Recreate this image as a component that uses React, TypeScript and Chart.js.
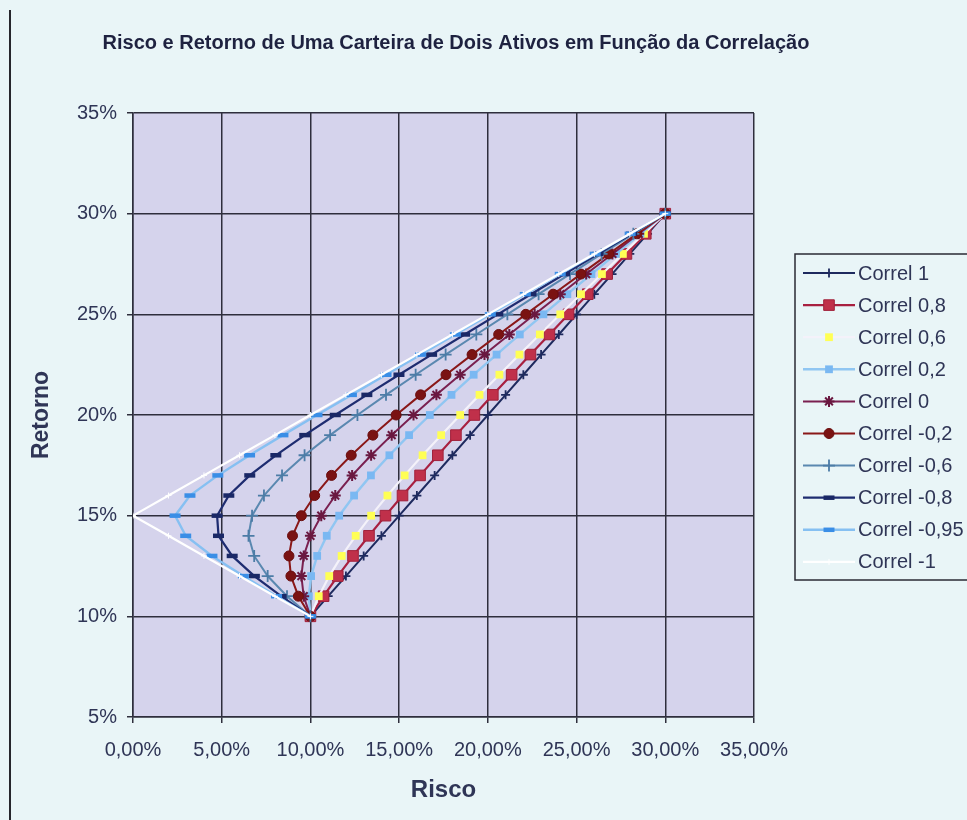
import React, { useEffect, useRef } from 'react';
import { Chart, registerables } from 'chart.js';

Chart.register(...registerables);

// Expected portfolio return (%) for weights 0%..100% in the second asset
const returns = [10, 11, 12, 13, 14, 15, 16, 17, 18, 19, 20, 21, 22, 23, 24, 25, 26, 27, 28, 29, 30];

// Portfolio risk (%) for each correlation between the two assets
const riskCorrel1 = [10, 11, 12, 13, 14, 15, 16, 17, 18, 19, 20, 21, 22, 23, 24, 25, 26, 27, 28, 29, 30];
const riskCorrel08 = [10.0, 10.74, 11.54, 12.4, 13.3, 14.23, 15.19, 16.18, 17.18, 18.2, 19.24, 20.28, 21.34, 22.4, 23.47, 24.55, 25.63, 26.72, 27.81, 28.9, 30.0];
const riskCorrel06 = [10.0, 10.47, 11.06, 11.76, 12.55, 13.42, 14.34, 15.31, 16.32, 17.37, 18.44, 19.53, 20.65, 21.78, 22.93, 24.08, 25.25, 26.43, 27.61, 28.8, 30.0];
const riskCorrel02 = [10.0, 9.91, 10.04, 10.38, 10.92, 11.62, 12.46, 13.41, 14.45, 15.56, 16.73, 17.95, 19.2, 20.49, 21.8, 23.13, 24.48, 25.84, 27.22, 28.6, 30.0];
const riskCorrel0 = [10.0, 9.62, 9.49, 9.62, 10.0, 10.61, 11.4, 12.35, 13.42, 14.58, 15.81, 17.1, 18.44, 19.81, 21.21, 22.64, 24.08, 25.54, 27.02, 28.5, 30.0];
const riskCorrelM02 = [10.0, 9.32, 8.9, 8.79, 8.99, 9.49, 10.24, 11.19, 12.3, 13.52, 14.83, 16.21, 17.64, 19.11, 20.61, 22.14, 23.68, 25.24, 26.82, 28.4, 30.0];
const riskCorrelM06 = [10.0, 8.68, 7.59, 6.83, 6.51, 6.71, 7.38, 8.4, 9.67, 11.11, 12.65, 14.26, 15.93, 17.62, 19.35, 21.1, 22.86, 24.63, 26.41, 28.2, 30.0];
const riskCorrelM08 = [10.0, 8.35, 6.84, 5.59, 4.82, 4.74, 5.4, 6.58, 8.05, 9.68, 11.4, 13.18, 14.99, 16.83, 18.69, 20.56, 22.43, 24.32, 26.21, 28.1, 30.0];
const riskCorrelM095 = [10.0, 8.09, 6.22, 4.45, 2.97, 2.37, 3.21, 4.78, 6.57, 8.45, 10.37, 12.31, 14.26, 16.21, 18.17, 20.14, 22.11, 24.08, 26.05, 28.02, 30.0];
const riskCorrelM1 = [10, 8, 6, 4, 2, 0, 2, 4, 6, 8, 10, 12, 14, 16, 18, 20, 22, 24, 26, 28, 30];

const seriesLabels = [
  'Correl 1', 'Correl 0,8', 'Correl 0,6', 'Correl 0,2', 'Correl 0',
  'Correl -0,2', 'Correl -0,6', 'Correl -0,8', 'Correl -0,95', 'Correl -1',
];
const seriesRisk = [
  riskCorrel1, riskCorrel08, riskCorrel06, riskCorrel02, riskCorrel0,
  riskCorrelM02, riskCorrelM06, riskCorrelM08, riskCorrelM095, riskCorrelM1,
];

const chartTitle = 'Risco e Retorno de Uma Carteira de Dois Ativos em Função da Correlação';
const xTitle = 'Risco';
const yTitle = 'Retorno';

type SeriesStyle = {
  line: string; lineWidth: number; point: string; radius: number;
  fill: string; stroke: string; pointWidth: number;
};

const seriesStyles: SeriesStyle[] = [
  { line: '#1E2A5E', lineWidth: 2, point: 'cross', radius: 4.5, fill: '#1E2A5E', stroke: '#1E2A5E', pointWidth: 1.8 },
  { line: '#A82040', lineWidth: 2.2, point: 'rect', radius: 7.5, fill: '#C0304A', stroke: '#A0203A', pointWidth: 1 },
  { line: '#F4F2FA', lineWidth: 2.2, point: 'rect', radius: 5.5, fill: '#FFFF55', stroke: '#FFFF55', pointWidth: 0 },
  { line: '#90C6F2', lineWidth: 2.4, point: 'rect', radius: 5.5, fill: '#7AB8F2', stroke: '#7AB8F2', pointWidth: 0 },
  { line: '#7A2050', lineWidth: 2, point: 'star', radius: 5.5, fill: '#6A1840', stroke: '#6A1840', pointWidth: 2 },
  { line: '#8A1818', lineWidth: 2, point: 'circle', radius: 5, fill: '#7A1212', stroke: '#6A0E0E', pointWidth: 1 },
  { line: '#5A88B0', lineWidth: 2, point: 'cross', radius: 6, fill: '#4C7CA6', stroke: '#4C7CA6', pointWidth: 1.8 },
  { line: '#1E2C70', lineWidth: 2.2, point: 'line', radius: 5.5, fill: '#1A2866', stroke: '#1A2866', pointWidth: 4.5 },
  { line: '#86C0F2', lineWidth: 2.4, point: 'line', radius: 5.5, fill: '#3A8EE6', stroke: '#3A8EE6', pointWidth: 4.5 },
  { line: '#FFFFFF', lineWidth: 2.2, point: 'cross', radius: 3, fill: '#FFFFFF', stroke: '#FFFFFF', pointWidth: 1 },
];

const FONT = "Arial, 'Liberation Sans', sans-serif";
const TEXT = '#2F3556';
const GRID = '#2E2E3C';

function drawMarker(ctx: CanvasRenderingContext2D, s: SeriesStyle, x: number, y: number) {
  const r = s.radius;
  ctx.save();
  ctx.fillStyle = s.fill;
  ctx.strokeStyle = s.stroke;
  ctx.lineWidth = s.pointWidth;
  ctx.beginPath();
  if (s.point === 'circle') {
    ctx.arc(x, y, r, 0, Math.PI * 2);
    ctx.fill();
    if (s.pointWidth) ctx.stroke();
  } else if (s.point === 'rect') {
    const h = r * Math.SQRT1_2;
    ctx.rect(x - h, y - h, 2 * h, 2 * h);
    ctx.fill();
    if (s.pointWidth) ctx.stroke();
  } else if (s.point === 'cross' || s.point === 'star') {
    ctx.moveTo(x, y - r); ctx.lineTo(x, y + r);
    ctx.moveTo(x - r, y); ctx.lineTo(x + r, y);
    if (s.point === 'star') {
      const d = r * Math.SQRT1_2;
      ctx.moveTo(x - d, y - d); ctx.lineTo(x + d, y + d);
      ctx.moveTo(x + d, y - d); ctx.lineTo(x - d, y + d);
    }
    ctx.stroke();
  } else if (s.point === 'line') {
    ctx.moveTo(x - r, y); ctx.lineTo(x + r, y);
    ctx.stroke();
  }
  ctx.restore();
}

const decorations = {
  id: 'decorations',
  beforeDraw(chart: any) {
    const { ctx, chartArea: a, width, height } = chart;
    ctx.save();
    ctx.fillStyle = '#E9F5F7';
    ctx.fillRect(0, 0, width, height);
    ctx.fillStyle = '#D5D3EC';
    ctx.fillRect(a.left, a.top, a.right - a.left, a.bottom - a.top);
    ctx.strokeStyle = '#26262C';
    ctx.lineWidth = 2;
    ctx.beginPath();
    ctx.moveTo(10, 10);
    ctx.lineTo(10, height);
    ctx.stroke();
    ctx.restore();
  },
  afterDraw(chart: any) {
    const { ctx } = chart;
    ctx.save();
    // chart title
    ctx.fillStyle = '#1E2240';
    ctx.font = `bold 20px ${FONT}`;
    ctx.textAlign = 'center';
    ctx.textBaseline = 'middle';
    ctx.fillText(chartTitle, 456, 43);

    // legend
    const boxLeft = 795, boxTop = 254, boxBottom = 580;
    ctx.strokeStyle = '#2A2A34';
    ctx.lineWidth = 1.5;
    ctx.strokeRect(boxLeft, boxTop, 220, boxBottom - boxTop);
    ctx.font = `20px ${FONT}`;
    ctx.textAlign = 'left';
    ctx.textBaseline = 'middle';
    seriesLabels.forEach((label, i) => {
      const s = seriesStyles[i];
      const y = 273 + i * 32.1;
      ctx.strokeStyle = s.line;
      ctx.lineWidth = s.lineWidth;
      ctx.beginPath();
      ctx.moveTo(803, y);
      ctx.lineTo(855, y);
      ctx.stroke();
      drawMarker(ctx, s, 829, y);
      ctx.fillStyle = TEXT;
      ctx.fillText(label, 858, y + 1);
    });
    ctx.restore();
  },
};

export default function App() {
  const canvasRef = useRef<HTMLCanvasElement | null>(null);

  useEffect(() => {
    const canvas = canvasRef.current;
    if (!canvas) return;
    const n = seriesLabels.length;
    const datasets = seriesLabels.map((label, i) => {
      const s = seriesStyles[i];
      return {
        label,
        data: seriesRisk[i].map((x, k) => ({ x, y: returns[k] })),
        showLine: true,
        borderColor: s.line,
        borderWidth: s.lineWidth,
        backgroundColor: s.fill,
        pointStyle: s.point,
        pointRadius: s.radius,
        pointBackgroundColor: s.fill,
        pointBorderColor: s.stroke,
        pointBorderWidth: s.pointWidth,
        tension: 0,
        order: n - i,
      };
    });

    const chart = new Chart(canvas, {
      type: 'scatter',
      data: { datasets },
      options: {
        responsive: false,
        animation: false,
        devicePixelRatio: 1,
        layout: { padding: { top: 113, right: 213, bottom: 0, left: 0 } },
        plugins: {
          legend: { display: false },
          title: { display: false },
          tooltip: { enabled: false },
        },
        scales: {
          x: {
            type: 'linear',
            min: 0,
            max: 35,
            afterFit: (scale: any) => { scale.height = 103; },
            ticks: {
              stepSize: 5,
              padding: 15,
              color: TEXT,
              font: { family: FONT, size: 20 },
              callback: (v: any) => Number(v).toFixed(2).replace('.', ',') + '%',
            },
            grid: { color: GRID, lineWidth: 1.5, tickLength: 6, tickColor: GRID },
            border: { color: GRID, width: 1.5 },
            title: {
              display: true,
              text: xTitle,
              color: TEXT,
              font: { family: FONT, size: 24, weight: 'bold' },
              padding: { top: 0, bottom: 15 },
            },
          },
          y: {
            type: 'linear',
            min: 5,
            max: 35,
            afterFit: (scale: any) => { scale.width = 133; },
            ticks: {
              stepSize: 5,
              padding: 10,
              color: TEXT,
              font: { family: FONT, size: 20 },
              callback: (v: any) => Math.round(Number(v)) + '%',
            },
            grid: { color: GRID, lineWidth: 1.5, tickLength: 6, tickColor: GRID },
            border: { color: GRID, width: 1.5 },
            title: {
              display: true,
              text: yTitle,
              color: TEXT,
              font: { family: FONT, size: 23, weight: 'bold' },
              padding: { top: 28, bottom: 0 },
            },
          },
        },
      },
      plugins: [decorations],
    } as any);

    return () => chart.destroy();
  }, []);

  return (
    <div style={{ position: 'fixed', left: 0, top: 0, width: 967, height: 820, background: '#E9F5F7' }}>
      <canvas ref={canvasRef} width={967} height={820} style={{ display: 'block' }} />
    </div>
  );
}
